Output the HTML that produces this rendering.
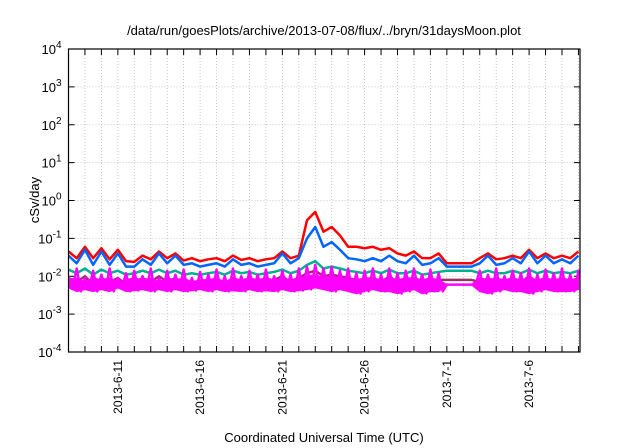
<!DOCTYPE html>
<html><head><meta charset="utf-8"><style>
body{margin:0;background:#fff;}
svg{display:block;font-family:"Liberation Sans",sans-serif;}
</style></head><body>
<svg id="chart" width="640" height="448"><defs><clipPath id="pc"><rect x="68.5" y="49" width="511.5" height="303"/></clipPath></defs></svg>
<script>
const startLabel = "2013-06-08";
const stepDays = 0.5;
const xTickLabels = ["2013-6-11","2013-6-16","2013-6-21","2013-6-26","2013-7-1","2013-7-6"];
const xTickDays = [3,8,13,18,23,28];
const yTickExps = [-4,-3,-2,-1,0,1,2,3,4];
const redVals = [0.045,0.03,0.06,0.03,0.055,0.028,0.05,0.025,0.024,0.035,0.028,0.045,0.03,0.04,0.026,0.03,0.025,0.028,0.03,0.025,0.035,0.027,0.03,0.025,0.028,0.03,0.045,0.03,0.035,0.3,0.5,0.15,0.2,0.12,0.06,0.06,0.055,0.06,0.05,0.055,0.04,0.035,0.045,0.03,0.03,0.04,0.022,0.022,0.022,0.022,0.03,0.04,0.028,0.03,0.035,0.03,0.05,0.03,0.04,0.03,0.035,0.03,0.045];
const blueVals = [0.035,0.022,0.05,0.02,0.045,0.02,0.04,0.018,0.018,0.028,0.02,0.04,0.022,0.035,0.02,0.022,0.018,0.02,0.022,0.018,0.028,0.02,0.022,0.018,0.02,0.022,0.04,0.022,0.03,0.1,0.2,0.06,0.08,0.05,0.03,0.028,0.025,0.03,0.025,0.035,0.025,0.022,0.035,0.02,0.022,0.03,0.018,0.018,0.018,0.018,0.022,0.035,0.02,0.022,0.03,0.022,0.045,0.022,0.035,0.022,0.028,0.022,0.035];
const tealVals = [0.015,0.012,0.016,0.011,0.015,0.012,0.014,0.011,0.012,0.014,0.012,0.015,0.012,0.014,0.011,0.012,0.011,0.012,0.013,0.011,0.014,0.012,0.013,0.011,0.012,0.013,0.015,0.012,0.014,0.02,0.025,0.016,0.018,0.016,0.014,0.013,0.012,0.014,0.012,0.015,0.012,0.012,0.014,0.011,0.012,0.013,0.014,0.014,0.014,0.014,0.012,0.014,0.012,0.012,0.014,0.012,0.015,0.012,0.014,0.012,0.013,0.012,0.014];
const purpleVals = [0.009,0.007,0.01,0.006,0.009,0.007,0.009,0.006,0.007,0.009,0.007,0.01,0.007,0.009,0.006,0.007,0.007,0.007,0.008,0.006,0.009,0.007,0.008,0.006,0.007,0.008,0.01,0.007,0.009,0.012,0.014,0.01,0.011,0.01,0.009,0.008,0.007,0.009,0.007,0.01,0.007,0.007,0.009,0.007,0.007,0.008,0.008,0.008,0.008,0.008,0.007,0.009,0.007,0.007,0.009,0.007,0.01,0.007,0.009,0.007,0.008,0.007,0.009];
const magentaHi = [0.01,0.016,0.009,0.014,0.011,0.016,0.009,0.012,0.014,0.01,0.016,0.009,0.014,0.011,0.015,0.009,0.013,0.011,0.015,0.01,0.016,0.01,0.014,0.011,0.015,0.01,0.014,0.011,0.016,0.018,0.02,0.016,0.018,0.014,0.016,0.012,0.014,0.016,0.011,0.016,0.012,0.014,0.016,0.011,0.015,0.012,0.006,0.006,0.006,0.006,0.014,0.011,0.016,0.01,0.014,0.012,0.016,0.011,0.015,0.012,0.016,0.011,0.014];
const magentaMid = [0.008,0.009,0.007,0.009,0.008,0.009,0.007,0.008,0.009,0.008,0.009,0.007,0.009,0.008,0.009,0.007,0.008,0.008,0.009,0.007,0.009,0.008,0.009,0.008,0.009,0.008,0.009,0.008,0.009,0.01,0.011,0.009,0.01,0.009,0.009,0.008,0.009,0.009,0.008,0.009,0.008,0.009,0.009,0.008,0.009,0.008,0.006,0.006,0.006,0.006,0.009,0.008,0.009,0.008,0.009,0.008,0.009,0.008,0.009,0.008,0.009,0.008,0.009];
const magentaLo = [0.005,0.004,0.0045,0.004,0.0045,0.004,0.005,0.004,0.0042,0.0045,0.004,0.0045,0.004,0.0045,0.004,0.0042,0.0045,0.004,0.0045,0.004,0.0042,0.004,0.0045,0.004,0.0042,0.004,0.0045,0.004,0.0042,0.0045,0.005,0.0045,0.004,0.0045,0.004,0.0035,0.004,0.0045,0.004,0.004,0.0035,0.004,0.0045,0.0035,0.004,0.004,0.006,0.006,0.006,0.006,0.004,0.0035,0.004,0.0045,0.004,0.004,0.0035,0.004,0.0045,0.004,0.004,0.004,0.0045];

const NS="http://www.w3.org/2000/svg";
const svg=document.getElementById('chart');
const L=68.5,R=580,T=49,B=352,pxDay=16.45;
const X=d=>L+d*pxDay;
const Y=v=>B-(Math.log10(v)+4)*(B-T)/8;
function el(tag,attrs,parent){const e=document.createElementNS(NS,tag);for(const k in attrs)e.setAttribute(k,attrs[k]);(parent||svg).appendChild(e);return e;}

for(let d=1;d*pxDay+L<R-1;d++){
  const g=el('line',{x1:X(d),x2:X(d),y1:T,y2:B,stroke:'#bbb','stroke-dasharray':'1,2','stroke-width':0.8});
  
  
  const t1=el('line',{x1:X(d),x2:X(d),y1:B,y2:B-6,stroke:'#000'});
  
  
  const t2=el('line',{x1:X(d),x2:X(d),y1:T,y2:T+6,stroke:'#000'});
  
  
}
yTickExps.forEach(e=>{
  const y=Y(Math.pow(10,e));
  if(e>-4&&e<4){const g=el('line',{x1:L,x2:R,y1:y,y2:y,stroke:'#bbb','stroke-dasharray':'1,2','stroke-width':0.8});
  
  }
  const t=el('line',{x1:L,x2:L+6,y1:y,y2:y,stroke:'#000'});
  
  
  const t2=el('line',{x1:R,x2:R-6,y1:y,y2:y,stroke:'#000'});
  
  
  const tx=el('text',{x:L-7,y:y+5,'text-anchor':'end','font-size':13});
  
  
  tx.appendChild(document.createTextNode('10'));
  const sp=el('tspan',{dy:-6,'font-size':10},tx);sp.textContent=String(e);
});
xTickLabels.forEach((lab,i)=>{
  const x=X(xTickDays[i]);
  const t=el('text',{x:0,y:0,'text-anchor':'end','font-size':12,transform:`translate(${x+4},360) rotate(-90)`});
  
  
  t.textContent=lab;
});

const plot=el('g',{'clip-path':'url(#pc)'});


function pts(arr){return arr.map((v,i)=>X(i*stepDays)+','+Y(v)).join(' ');}
const series=[['red-series',redVals,'#ff0000'],['blue-series',blueVals,'#0066ff'],['teal-series',tealVals,'#00b090'],['purple-series',purpleVals,'#993366']];
series.forEach(s=>{
  const p=el('polyline',{points:pts(s[1]),fill:'none',stroke:s[2],'stroke-width':2.5,'stroke-linejoin':'round'},plot);
  
  
});
const band=el('polygon',{points:pts(magentaMid)+' '+magentaLo.map((v,i)=>X(i*stepDays)+','+Y(v)).reverse().join(' '),fill:'#ff00ff',stroke:'#ff00ff','stroke-width':1.5},plot);


const zz=[];
magentaHi.forEach((v,i)=>{zz.push(X(i*stepDays)+','+Y(v));zz.push(X(i*stepDays+stepDays/2)+','+Y(magentaLo[i]));});
const mg=el('polyline',{points:zz.join(' '),fill:'none',stroke:'#ff00ff','stroke-width':2.5,'stroke-linejoin':'round'},plot);



const f=el('rect',{x:L,y:T,width:R-L,height:B-T,fill:'none',stroke:'#000','stroke-width':1.2});


const ti=el('text',{x:324,y:35,'text-anchor':'middle','font-size':13});


ti.textContent='/data/run/goesPlots/archive/2013-07-08/flux/../bryn/31daysMoon.plot';
const yt=el('text',{x:0,y:0,'text-anchor':'middle','font-size':13,transform:'translate(39,200) rotate(-90)'});


yt.textContent='cSv/day';
const xt=el('text',{x:324,y:442,'text-anchor':'middle','font-size':13});


xt.textContent='Coordinated Universal Time (UTC)';
</script>
</body></html>
